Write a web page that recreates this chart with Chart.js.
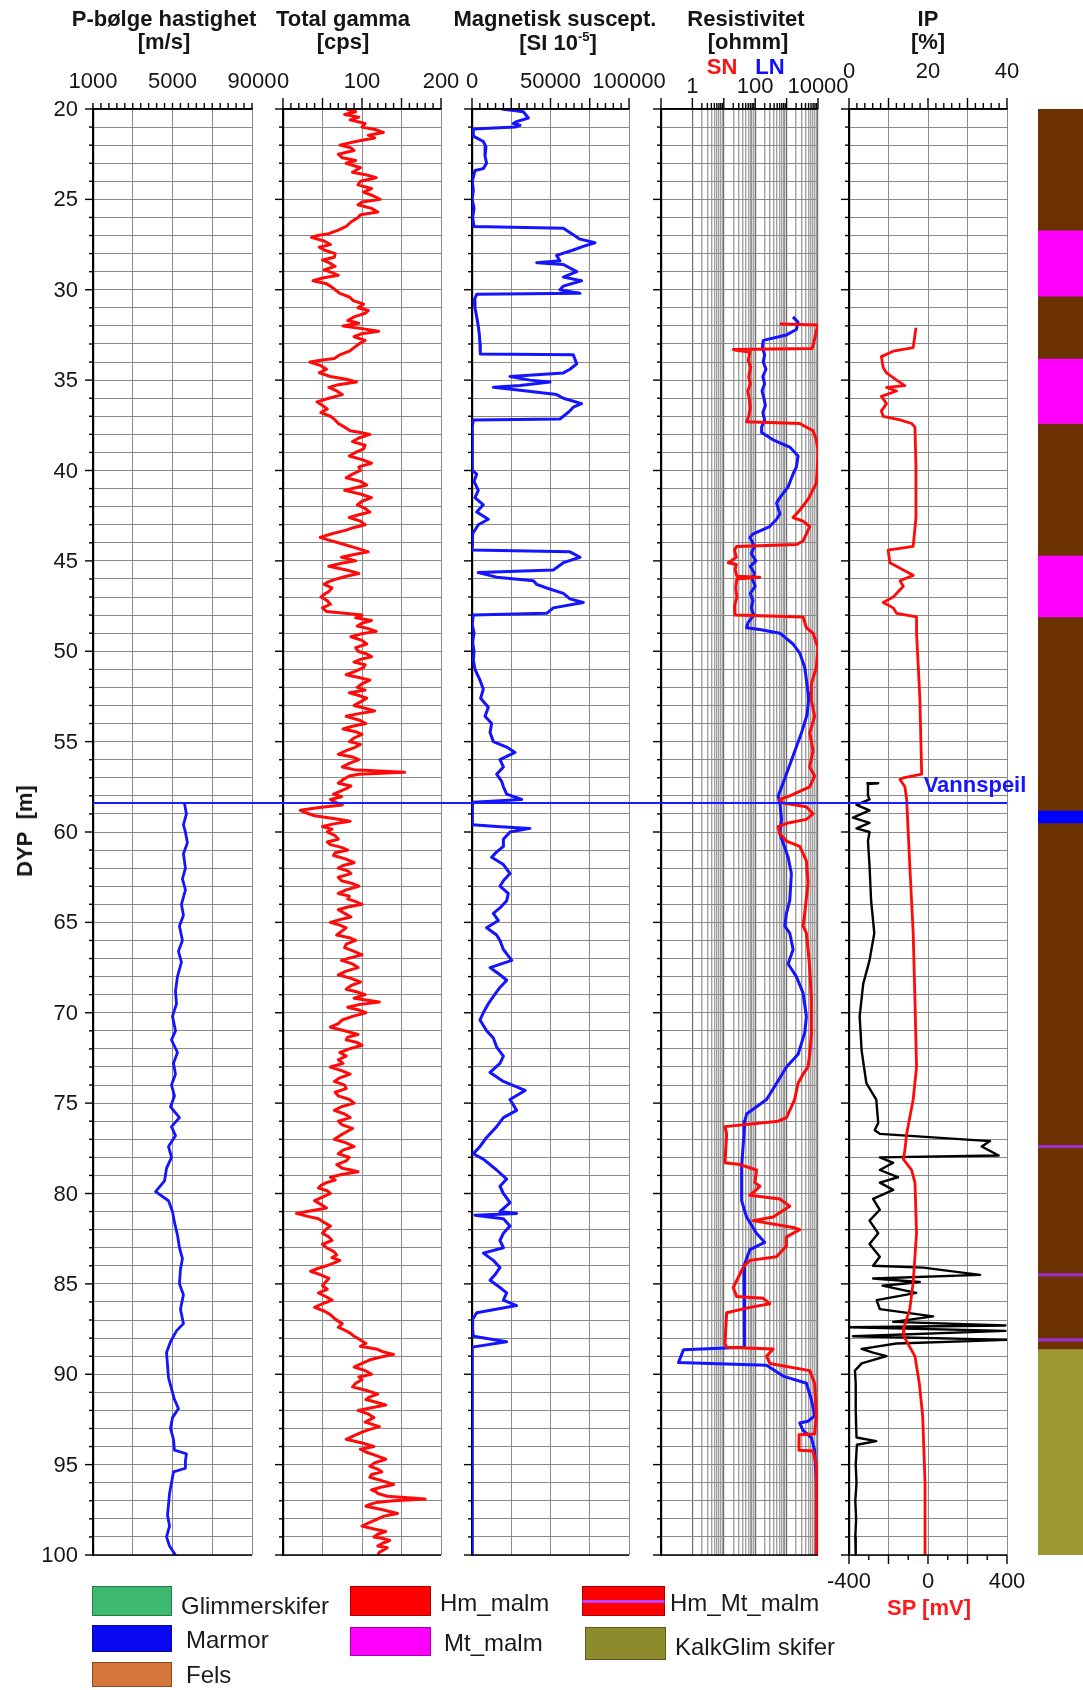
<!DOCTYPE html>
<html><head><meta charset="utf-8">
<script src="https://cdn.jsdelivr.net/npm/chart.js@4.4.1/dist/chart.umd.min.js"></script>
<style>
body{margin:0;background:#fff;}
#page{position:relative;width:1083px;height:1690px;overflow:hidden;background:#fff;font-family:"Liberation Sans",Arial,sans-serif;color:#151515;}
canvas{position:absolute;top:0;}
.t{position:absolute;white-space:nowrap;transform:translate(-50%,-50%);font-size:22px;line-height:1;}
.b{font-weight:bold;}
.lg{position:absolute;white-space:nowrap;transform:translateY(-50%);font-size:24px;line-height:1;color:#1a1a1a;}
.sw{position:absolute;box-sizing:border-box;border:1px solid rgba(0,0,0,0.35);}
sup{font-size:13px;}
</style></head>
<body><div id="page">
<canvas id="c1"></canvas><canvas id="c2"></canvas><canvas id="c3"></canvas><canvas id="c4"></canvas><canvas id="c5"></canvas>
<canvas id="clith"></canvas><canvas id="cwater"></canvas>

<div class="t b" style="left:164px;top:19px">P-bølge hastighet</div>
<div class="t b" style="left:164px;top:42px">[m/s]</div>
<div class="t b" style="left:343px;top:19px">Total gamma</div>
<div class="t b" style="left:343px;top:42px">[cps]</div>
<div class="t b" style="left:555px;top:19px">Magnetisk suscept.</div>
<div class="t b" style="left:558px;top:42px">[SI 10<sup>-5</sup>]</div>
<div class="t b" style="left:746px;top:19px">Resistivitet</div>
<div class="t b" style="left:748px;top:42px">[ohmm]</div>
<div class="t b" style="left:722px;top:67px;color:#ff1010">SN</div>
<div class="t b" style="left:770px;top:67px;color:#1010ff">LN</div>
<div class="t b" style="left:928px;top:19px">IP</div>
<div class="t b" style="left:928px;top:42px">[%]</div>
<div class="t b" style="left:25px;top:831px;transform:translate(-50%,-50%) rotate(-90deg)">DYP&nbsp; [m]</div>
<div class="t b" style="left:975px;top:785px;color:#1515ff">Vannspeil</div>
<div class="t b" style="left:929px;top:1608px;color:#ff1a1a">SP [mV]</div>

<div class="sw" style="left:92px;top:1586px;width:80px;height:30px;background:#3dba6f"></div>
<div class="lg" style="left:181px;top:1606px">Glimmerskifer</div>
<div class="sw" style="left:92px;top:1625px;width:80px;height:27px;background:#0a0af2"></div>
<div class="lg" style="left:186px;top:1640px">Marmor</div>
<div class="sw" style="left:92px;top:1662px;width:80px;height:25px;background:#d4763a"></div>
<div class="lg" style="left:186px;top:1675px">Fels</div>
<div class="sw" style="left:350px;top:1586px;width:81px;height:30px;background:#ff0000"></div>
<div class="lg" style="left:440px;top:1603px">Hm_malm</div>
<div class="sw" style="left:350px;top:1627px;width:81px;height:29px;background:#ff00ff"></div>
<div class="lg" style="left:444px;top:1643px">Mt_malm</div>
<div class="sw" style="left:582px;top:1586px;width:83px;height:30px;background:linear-gradient(#ff0000 0,#ff0000 46%,#c040ff 46%,#c040ff 56%,#ff0000 56%)"></div>
<div class="lg" style="left:670px;top:1603px">Hm_Mt_malm</div>
<div class="sw" style="left:585px;top:1627px;width:81px;height:33px;background:#8e8b2c"></div>
<div class="lg" style="left:675px;top:1647px">KalkGlim skifer</div>
</div>
<script>
// ---------------- DATA ----------------
const depthMin = 20, depthMax = 100;
const depthLabels = [20,25,30,35,40,45,50,55,60,65,70,75,80,85,90,95,100];
const waterLevel = 58.4;

// P-wave velocity [m/s]  [depth, value]
const pwave = [[58.4,5600],[59,5700],[59.6,5550],[60,5650],[60.6,5750],[61.2,5550],[62,5650],[62.6,5500],[63.2,5650],[64,5450],[64.6,5550],[65.2,5350],[66,5500],[66.6,5300],[67.2,5450],[68,5250],[68.8,5150],[69.5,5200],[70.2,5000],[71,5150],[71.5,4950],[72.2,5250],[72.8,5050],[73.4,5150],[74,4950],[74.6,5100],[75.2,4900],[75.8,5350],[76.3,4950],[76.8,5150],[77.4,4800],[78,4950],[78.6,4700],[79.3,4600],[79.9,4150],[80.4,4800],[81,5000],[81.6,5100],[82.3,5250],[83,5350],[83.6,5500],[84.2,5400],[85,5350],[85.6,5550],[86.4,5400],[87.2,5550],[87.6,5200],[88.2,4900],[88.8,4700],[89.5,4750],[90.2,4800],[90.8,4950],[91.4,5100],[91.9,5300],[92.4,5000],[93,4900],[93.6,5050],[94.2,5100],[94.4,5700],[94.8,5650],[95.2,5650],[95.4,5050],[96,4950],[96.6,4850],[97.2,4800],[97.8,4750],[98.4,4850],[99,4700],[99.5,4850],[100,5150]];

// Total gamma [cps]
const gamma = [[20,80],[20.15,92],[20.3,78],[20.45,96],[20.6,85],[20.8,104],[21,100],[21.15,118],[21.3,127],[21.45,108],[21.6,116],[21.8,92],[22,72],[22.15,86],[22.3,90],[22.5,70],[22.7,75],[22.85,92],[23,80],[23.25,98],[23.5,88],[23.65,106],[23.8,118],[24,98],[24.2,95],[24.4,112],[24.6,102],[24.8,114],[25,123],[25.15,100],[25.3,95],[25.5,112],[25.7,120],[25.85,98],[26,95],[26.25,86],[26.5,80],[26.7,70],[26.9,58],[27,44],[27.1,36],[27.3,52],[27.5,60],[27.65,46],[27.8,52],[28,66],[28.2,65],[28.35,50],[28.5,58],[28.7,66],[28.9,52],[29.05,62],[29.2,70],[29.35,50],[29.5,38],[29.65,54],[29.8,60],[30,66],[30.2,72],[30.4,84],[30.6,89],[30.8,102],[31,95],[31.15,108],[31.3,104],[31.5,90],[31.7,82],[31.85,96],[32,76],[32.15,100],[32.3,121],[32.45,98],[32.6,90],[32.8,104],[33,96],[33.2,90],[33.4,84],[33.6,72],[33.8,65],[33.9,48],[34,34],[34.2,48],[34.4,55],[34.6,46],[34.8,60],[34.95,80],[35.1,93],[35.25,70],[35.4,58],[35.6,68],[35.8,75],[36,58],[36.2,43],[36.4,50],[36.6,56],[36.8,48],[37,60],[37.2,66],[37.4,70],[37.6,78],[37.8,85],[37.9,98],[38,110],[38.2,96],[38.4,88],[38.6,104],[38.8,102],[39,92],[39.2,84],[39.4,100],[39.6,112],[39.8,96],[40,98],[40.2,88],[40.4,80],[40.6,98],[40.8,106],[40.95,92],[41.1,78],[41.3,98],[41.5,112],[41.7,100],[41.9,94],[42.1,104],[42.3,110],[42.45,96],[42.6,84],[42.8,98],[43,104],[43.15,90],[43.3,80],[43.5,62],[43.7,47],[43.85,58],[44,70],[44.25,90],[44.5,108],[44.65,90],[44.8,74],[44.9,84],[45,92],[45.15,72],[45.3,58],[45.5,80],[45.7,96],[45.85,80],[46,68],[46.15,58],[46.3,52],[46.5,62],[46.7,58],[46.85,52],[47,48],[47.2,56],[47.4,60],[47.6,50],[47.8,55],[47.9,78],[48,100],[48.15,92],[48.3,112],[48.45,100],[48.6,94],[48.75,108],[48.9,118],[49.05,98],[49.2,86],[49.4,100],[49.6,106],[49.8,92],[50,95],[50.15,106],[50.3,112],[50.45,98],[50.6,90],[50.75,104],[50.9,102],[51.1,92],[51.3,80],[51.45,96],[51.6,110],[51.8,100],[52,94],[52.15,104],[52.3,84],[52.45,96],[52.6,106],[52.8,98],[53,90],[53.15,104],[53.3,116],[53.45,96],[53.6,80],[53.8,96],[54,105],[54.15,88],[54.3,76],[54.45,92],[54.6,100],[54.8,90],[55,84],[55.15,98],[55.3,92],[55.5,80],[55.7,70],[55.85,88],[56,96],[56.2,84],[56.4,75],[56.55,90],[56.7,154],[56.8,96],[56.9,84],[57.1,76],[57.3,70],[57.45,86],[57.6,80],[57.75,72],[57.9,64],[58.05,74],[58.2,60],[58.35,66],[58.5,75],[58.65,46],[58.8,22],[58.95,30],[59.1,40],[59.25,64],[59.4,85],[59.55,64],[59.7,50],[59.85,62],[60,56],[60.2,66],[60.4,70],[60.55,56],[60.7,60],[60.85,74],[61,82],[61.15,66],[61.3,64],[61.5,80],[61.7,90],[61.85,76],[62,70],[62.15,82],[62.3,86],[62.5,70],[62.7,74],[62.85,88],[63,96],[63.2,80],[63.4,70],[63.55,84],[63.7,82],[63.85,92],[64,100],[64.15,82],[64.3,70],[64.5,78],[64.7,86],[64.85,72],[65,60],[65.15,72],[65.3,80],[65.5,74],[65.7,68],[65.85,84],[66,92],[66.2,80],[66.4,78],[66.6,90],[66.8,100],[66.95,86],[67.1,74],[67.3,88],[67.5,95],[67.7,80],[67.9,70],[68.1,86],[68.3,98],[68.5,86],[68.7,80],[68.85,94],[69,104],[69.2,90],[69.4,122],[69.55,96],[69.7,82],[69.85,96],[70,105],[70.2,88],[70.4,75],[70.6,70],[70.8,60],[71,78],[71.2,95],[71.35,82],[71.5,80],[71.65,94],[71.8,100],[72,84],[72.2,72],[72.4,80],[72.6,70],[72.8,76],[73,60],[73.2,74],[73.4,85],[73.6,72],[73.8,65],[74,78],[74.2,80],[74.4,66],[74.6,70],[74.8,84],[75,90],[75.2,74],[75.4,65],[75.6,78],[75.8,85],[76,70],[76.2,75],[76.4,88],[76.6,80],[76.8,72],[77,65],[77.2,80],[77.4,90],[77.6,76],[77.8,70],[78,84],[78.2,80],[78.4,68],[78.6,75],[78.7,86],[78.8,95],[78.95,74],[79.1,60],[79.25,66],[79.4,55],[79.55,48],[79.7,45],[79.85,56],[80,60],[80.2,50],[80.4,40],[80.6,48],[80.8,55],[80.95,36],[81.1,17],[81.25,30],[81.4,45],[81.6,52],[81.8,60],[82,54],[82.2,50],[82.4,58],[82.6,62],[82.8,50],[83,55],[83.2,64],[83.4,68],[83.55,62],[83.7,72],[83.85,64],[84,55],[84.15,44],[84.3,35],[84.5,48],[84.7,58],[84.9,54],[85.1,50],[85.3,56],[85.5,45],[85.7,54],[85.9,62],[86.1,50],[86.3,40],[86.5,52],[86.7,60],[86.95,66],[87.2,75],[87.4,70],[87.6,80],[87.75,86],[87.9,90],[88.1,98],[88.3,105],[88.45,98],[88.6,118],[88.75,126],[88.9,140],[89.05,124],[89.2,110],[89.4,100],[89.6,90],[89.8,104],[90,112],[90.15,96],[90.3,100],[90.5,92],[90.7,88],[90.9,106],[91.1,120],[91.25,110],[91.4,105],[91.55,118],[91.7,130],[91.85,112],[92,95],[92.2,108],[92.4,115],[92.65,104],[92.9,122],[93.05,110],[93.2,100],[93.4,90],[93.6,80],[93.8,100],[94,115],[94.15,98],[94.3,105],[94.5,118],[94.7,130],[94.9,116],[95.1,110],[95.25,120],[95.4,125],[95.55,112],[95.7,110],[95.9,126],[96.1,140],[96.25,124],[96.4,112],[96.5,118],[96.6,120],[96.75,132],[96.9,180],[97,140],[97.1,118],[97.2,110],[97.3,105],[97.5,126],[97.7,145],[97.85,128],[98,120],[98.2,110],[98.4,100],[98.55,114],[98.7,130],[98.85,120],[99,115],[99.1,128],[99.2,135],[99.35,126],[99.5,120],[99.6,132],[99.7,128],[99.85,122],[100,120]];

// Magnetic susceptibility [SI 10^-5]
const susc = [[20,18900],[20.15,32700],[20.5,35900],[20.7,28400],[20.8,26300],[20.9,30600],[21,27400],[21.1,850],[21.5,850],[21.8,7200],[22.1,8900],[22.6,8300],[23,9300],[23.3,7200],[23.4,1900],[24,200],[24.5,850],[25,100],[25.5,1300],[26,400],[26.5,1300],[26.6,58200],[26.9,63500],[27.2,68800],[27.4,78300],[27.6,70900],[27.8,64500],[28.1,53900],[28.4,56000],[28.5,41200],[28.6,58200],[29,66700],[29.3,58200],[29.5,69800],[29.8,58200],[30,56000],[30.2,68800],[30.25,3000],[30.6,1300],[31,1900],[31.5,3000],[32,4000],[32.5,4700],[33,5100],[33.4,5500],[33.55,5100],[33.6,64500],[34.1,66700],[34.4,62400],[34.6,58200],[34.8,24200],[35,36900],[35.1,49700],[35.3,30600],[35.4,13600],[35.6,34800],[35.8,53900],[36,58200],[36.3,69800],[36.5,64500],[36.7,62400],[37,58200],[37.15,56000],[37.2,850],[37.6,100],[38,200],[39,100],[40,400],[40.2,3000],[40.6,1300],[41.1,4000],[41.5,1900],[41.9,7200],[42.3,3000],[42.7,10400],[43,4000],[43.5,400],[44,200],[44.4,100],[44.5,62400],[44.8,68800],[45.1,58200],[45.5,51800],[45.65,4000],[45.9,15700],[46.1,39100],[46.3,41200],[46.5,47600],[46.8,58200],[47.1,62400],[47.3,70900],[47.6,51800],[47.9,47600],[48,850],[48.5,100],[49,1300],[49.5,400],[50,1300],[50.5,850],[51,1900],[51.6,5100],[52.1,7200],[52.6,5500],[53.1,10400],[53.6,8300],[54,12500],[54.5,11500],[55,13600],[55.3,22100],[55.6,27400],[56,17800],[56.4,20000],[56.8,15700],[57.2,18900],[57.5,20000],[57.9,22100],[58.2,31600],[58.35,850],[58.6,100],[59.2,100],[59.6,400],[59.7,15700],[59.8,36900],[60,24200],[60.4,20000],[60.8,20000],[61.1,15700],[61.4,12500],[61.8,20000],[62.3,24200],[62.7,20000],[63,17800],[63.4,23100],[63.8,22100],[64.2,17800],[64.5,13600],[64.9,16800],[65.3,9300],[65.7,15700],[66,17800],[66.5,20000],[67.1,25300],[67.5,11500],[67.9,17800],[68.2,22100],[68.6,17800],[69.1,13600],[69.5,10400],[70,7200],[70.4,5100],[71,9300],[71.4,13600],[71.9,15700],[72.4,20000],[72.8,17800],[73.3,11500],[73.8,20000],[74.3,33800],[74.8,24200],[75.4,28400],[75.8,20000],[76.3,15700],[76.9,9300],[77.4,5100],[77.8,850],[78.1,7200],[78.7,15700],[79.2,22100],[79.6,17800],[80,20000],[80.5,24200],[81,17800],[81.1,28400],[81.2,1900],[81.4,20000],[81.8,24200],[82.2,20000],[82.6,17800],[83,20000],[83.3,7200],[83.7,13600],[84.1,17800],[84.5,14600],[84.8,11500],[85.2,17800],[85.5,22100],[85.9,20000],[86.2,28400],[86.6,3000],[87,100],[87.5,400],[87.9,850],[88.2,22100],[88.5,100],[89,100],[90,0],[92,100],[95,100],[97,200],[98.5,600],[98.8,100],[100,100]];

// Resistivity [ohmm] – LN (long normal) and SN (short normal)
const resLN = [[31.5,1600],[31.8,2320],[32.2,2050],[32.5,990],[32.8,180],[33.2,170],[33.6,200],[34,180],[34.4,220],[34.8,175],[35.2,200],[35.6,165],[36,190],[36.4,210],[36.8,175],[37.2,200],[37.6,160],[37.9,160],[38.3,370],[38.7,1260],[39.2,2320],[39.8,2050],[40.2,1600],[40.9,1120],[41.5,610],[41.8,480],[42.4,610],[42.7,480],[43.1,290],[43.5,86],[43.7,68],[44.2,95],[44.6,75],[45,105],[45.3,70],[45.7,95],[46,80],[46.4,100],[46.8,70],[47.2,85],[47.6,75],[48,90],[48.4,60],[48.7,53],[48.8,140],[49,610],[49.6,1610],[50.1,2620],[50.9,3780],[51.6,4300],[52.3,4820],[52.7,5000],[53.5,4500],[54.5,3000],[55.8,1600],[57.3,770],[58,540],[58.4,610],[59.3,690],[60.1,610],[60.6,770],[61.4,1120],[62.3,1420],[63.8,1260],[64.5,990],[65.2,875],[65.6,1260],[66.5,1610],[67.3,1120],[68,2050],[68.9,3340],[70.2,4270],[71.1,3780],[72.3,2320],[73,990],[73.9,480],[74.8,230],[75.6,53],[76,47],[76.7,44],[78.5,37],[79.4,37],[80.4,37],[81.3,53],[82.2,110],[82.7,200],[83.1,68],[84,44],[85,47],[86,44],[87,47],[88,45],[88.5,46],[88.65,0.52],[89.35,0.36],[89.5,229],[90.1,775],[90.5,4270],[91.4,6140],[92.3,7830],[92.6,4820],[92.7,2620],[93.1,3340],[93.5,6140],[94.2,7830],[96,8850],[100,8850]];
const resSN = [[31.9,610],[31.95,10000],[32.3,8850],[33.1,6940],[33.25,6500],[33.3,20],[33.35,25],[33.45,68],[33.9,60],[34.3,72],[34.8,62],[35.2,70],[35.6,58],[36,64],[36.5,70],[37,62],[37.3,53],[37.4,2620],[37.8,6940],[38.3,8850],[38.9,10000],[40,9500],[40.7,8850],[41.6,4820],[42.2,2620],[42.6,1610],[42.8,3340],[43.1,5440],[43.5,4270],[43.9,3340],[44.1,2050],[44.2,25.6],[44.4,22],[44.8,25],[45.1,13.9],[45.2,25],[45.5,23],[45.85,26],[45.9,140],[46,26],[46.5,24],[47,26],[47.5,22],[48,22.6],[48.1,3340],[48.7,4270],[49,6940],[49.8,10000],[50.9,8850],[51.8,6140],[52.7,6140],[53.6,7830],[54.5,5440],[55.5,6940],[56.4,5440],[56.9,7830],[57.5,5440],[58,1260],[58.2,610],[58.4,770],[58.6,4270],[59,6940],[59.3,4270],[59.5,1120],[59.7,540],[60.1,610],[60.5,990],[60.8,2620],[61.6,4270],[62.8,4820],[64.5,3780],[65.2,3340],[65.6,4270],[66.5,4820],[67.5,5440],[69.3,6140],[71.2,6140],[72.3,5440],[73,4820],[73.4,3340],[73.9,2320],[74.8,1800],[75.8,990],[76,540],[76.3,10.9],[76.7,12.3],[78.3,10.9],[78.4,33],[78.7,110],[79.4,98],[79.6,141],[80.1,68],[80.3,610],[80.7,1260],[81.3,373],[81.5,86],[81.9,1800],[82,2620],[82.4,990],[82.9,990],[83.5,476],[83.7,68],[84,44],[85.2,20],[85.7,25.6],[85.8,179],[86.1,292],[86.3,68],[86.6,12.3],[88.3,10.9],[88.5,12.3],[88.6,373],[89,229],[89.4,292],[89.8,5440],[90.5,7830],[92.3,8850],[93.3,7830],[93.35,2490],[94.2,2490],[94.25,6940],[95,8850],[100,8850]];

// IP [%] (black) and SP [mV] (red)
const ip = [[57.3,4.4],[57.3,7.4],[57.35,4.8],[58,4.8],[58.2,5.2],[58.5,1.9],[58.8,5.2],[59.2,1],[59.5,5.2],[59.8,1.9],[60,5.2],[60.5,4.8],[61.9,5.2],[63.8,5.6],[65.6,6.4],[67.1,5.2],[68.4,3.6],[70.2,2.7],[72.1,3.2],[73.9,4.4],[74.8,6.9],[76.1,7.4],[76.5,6.5],[76.7,7.8],[77.1,35.7],[77.4,33.6],[77.9,37.9],[78,7.8],[78.3,11.2],[78.7,7.8],[79.1,12.4],[79.4,7.8],[79.8,11.2],[80.3,6.1],[80.9,7.8],[81.5,5.2],[82.2,7.4],[82.8,5.2],[83.5,7.8],[84,6.1],[84.1,18.8],[84.5,33.2],[84.7,6.1],[84.9,17.9],[85.1,8.5],[85.5,17],[85.9,7],[86.4,7.8],[86.8,21.3],[87.1,11.2],[87.3,39.6],[87.4,0.2],[87.6,39.6],[87.9,1],[88.1,40],[88.3,12],[88.5,6.1],[88.6,3.2],[88.8,6.1],[89,9.5],[89.4,3.2],[89.8,1.5],[90.5,1.7],[92,1.7],[93.5,1.9],[93.7,6.9],[93.9,2],[95,1.7],[96,1.9],[97,1.6],[98,1.8],[99,1.6],[100,1.7]];
const sp = [[32.1,-61],[33.2,-75],[33.4,-176],[33.7,-236],[34.3,-227],[34.6,-210],[35,-159],[35.3,-117],[35.4,-210],[35.6,-159],[35.9,-236],[36.3,-210],[36.7,-236],[37,-227],[37.2,-142],[37.4,-83],[37.6,-66],[39.8,-61],[42.6,-61],[44.2,-75],[44.4,-202],[45.1,-193],[45.5,-125],[45.8,-75],[46.1,-142],[46.4,-125],[47,-176],[47.3,-227],[47.6,-176],[47.9,-159],[48.1,-58],[49,-58],[50.9,-49],[52.7,-41],[56.8,-32],[57,-125],[57.1,-142],[57.5,-117],[58.2,-108],[61.9,-92],[65.6,-75],[69.3,-66],[73,-58],[74.8,-75],[76.7,-108],[77.6,-117],[78.1,-125],[78.7,-83],[79.4,-66],[82.2,-58],[84.9,-75],[86.4,-92],[87.5,-125],[87.9,-122],[88.5,-92],[89,-66],[90.5,-44],[92.3,-27],[96,-15],[100,-15]];

// Lithology intervals [top, bottom, type]  (boundary lines first so they draw on top)
const lithology = [[77.33,77.47,'line'],[84.43,84.57,'line'],[88.03,88.17,'line'],[20,26.7,'brown'],[26.7,30.35,'Mt_malm'],[30.35,33.8,'brown'],[33.8,37.4,'Mt_malm'],[37.4,44.7,'brown'],[44.7,48.1,'Mt_malm'],[48.1,58.8,'brown'],[58.8,59.5,'Marmor'],[59.5,88.6,'brown'],[88.6,100,'KalkGlim skifer']];

// Axis tick labels
const pwaveLabels = [1000,5000,9000];
const gammaLabels = [0,100,200];
const suscLabels = [0,50000,100000];
const resLabels = [1,100,10000];
const ipLabels = [0,20,40];
const spLabels = [-400,0,400];

// ---------------- RENDER ----------------
const TOP = 109, BOT = 1555, H = 1690;
const GRID = '#8a8a8a';
const lithColors = {'brown':'#6b3100','Mt_malm':'#ff00ff','Marmor':'#0000ff','KalkGlim skifer':'#9c9931','line':'#9a30c8'};
const pts = arr => arr.map(p => ({x:p[1], y:p[0]}));
function range(a,b,s){const r=[];for(let v=a;v<=b+1e-9;v+=s)r.push(Math.round(v*1000)/1000);return r;}
const depthTicks = range(20,100,1);
const logTicks = [];
for (let e=0;e<=3;e++) for (let m=1;m<=9;m++) logTicks.push(m*Math.pow(10,e));
logTicks.push(10000);

const deco = {
  id:'deco',
  afterDraw(chart, args, o){
    const ctx = chart.ctx, a = chart.chartArea, ys = chart.scales.y, xs = chart.scales.x;
    ctx.save();
    ctx.strokeStyle = '#000'; ctx.lineWidth = 1.4;
    const ln=(x1,y1,x2,y2)=>{ctx.beginPath();ctx.moveTo(x1,y1);ctx.lineTo(x2,y2);ctx.stroke();};
    depthTicks.forEach(d=>{const p=ys.getPixelForValue(d);const len=(d%5===0)?8:4;ln(a.left-len,p,a.left,p);});
    o.top.forEach(t=>{const p=xs.getPixelForValue(t.v);ln(p,a.top-(t.major?11:6),p,a.top);});
    ctx.lineWidth = 1.6; ln(a.left,a.bottom,a.right,a.bottom); ln(a.left-1,a.top,a.right,a.top);
    ctx.font = '22px "Liberation Sans", Arial, sans-serif'; ctx.fillStyle = '#151515';
    ctx.textAlign='center'; ctx.textBaseline='middle';
    o.labels.forEach(v=>ctx.fillText(String(v), xs.getPixelForValue(v), o.labelY));
    if (o.depthLabels){ctx.textAlign='right'; depthLabels.forEach(d=>ctx.fillText(String(d), a.left-15, ys.getPixelForValue(d)+1));}
    if (o.bottom){
      const bs = chart.scales.x2; ctx.lineWidth=1.4;
      range(-400,400,100).forEach(v=>{const p=bs.getPixelForValue(v);ln(p,a.bottom,p,a.bottom+(v%200===0?9:5));});
      ctx.textAlign='center';
      spLabels.forEach(v=>ctx.fillText(String(v), bs.getPixelForValue(v), 1582));
    }
    ctx.restore();
  }
};

function track(id, left, right, xcfg, datasets, decoOpts, extra, PL){
  PL = PL || 45; const PR = 45;
  const cv = document.getElementById(id);
  cv.width = right-left+PL+PR; cv.height = H; cv.style.left=(left-PL)+'px';
  const scales = {
    x: Object.assign({position:'top', border:{display:true,color:'#000',width:1.5},
         ticks:{display:false}, afterFit(s){s.height=0;}}, xcfg),
    y: {type:'linear', reverse:true, min:depthMin, max:depthMax, position:'left',
        border:{display:true,color:'#000',width:2.2},
        ticks:{display:false}, grid:{color:GRID,lineWidth:1,drawTicks:false},
        afterBuildTicks(s){s.ticks=depthTicks.map(v=>({value:v}));}, afterFit(s){s.width=0;}}
  };
  Object.assign(scales, extra||{});
  new Chart(cv,{type:'scatter', data:{datasets},
    options:{responsive:false, animation:false, devicePixelRatio:1,
      layout:{padding:{left:PL,right:PR,top:TOP,bottom:H-BOT}},
      plugins:{legend:{display:false}, tooltip:{enabled:false}, deco:decoOpts},
      scales},
    plugins:[deco]});
}
function ds(arr, color, w, axis){
  const d = {data:pts(arr), showLine:true, borderColor:color, borderWidth:w, pointRadius:0, tension:0, fill:false, borderJoinStyle:'round'};
  if (axis) d.xAxisID = axis;
  return d;
}
function linX(min,max,major){
  return {type:'linear',min,max, grid:{color:GRID,lineWidth:1,drawTicks:false},
    afterBuildTicks(s){s.ticks=range(min,max,major).map(v=>({value:v}));}};
}
function topTicks(min,max,minor,major){return range(min,max,minor).map(v=>({v,major:Math.abs(v/major-Math.round(v/major))<1e-6}));}

track('c1',93,252, linX(1000,9000,2000), [ds(pwave,'#1414ff',2.8)],
  {top:topTicks(1000,9000,400,2000), labels:pwaveLabels, labelY:82, depthLabels:true}, null, 93);
track('c2',283,441, linX(0,200,50), [ds(gamma,'#ff0a0a',3)],
  {top:topTicks(0,200,10,50), labels:gammaLabels, labelY:82});
track('c3',472,629, linX(0,100000,25000), [ds(susc,'#1414ff',3)],
  {top:topTicks(0,100000,5000,25000), labels:suscLabels, labelY:82});
track('c4',661,818, {type:'logarithmic',min:0.1,max:10000,
    grid:{drawTicks:false, color:c=>{const v=c.tick&&c.tick.value; if(v==null)return GRID; const e=Math.log10(v); return Math.abs(e-Math.round(e))<1e-6?'#6f6f6f':'rgba(110,110,110,0.65)';}, lineWidth:c=>{const v=c.tick&&c.tick.value; if(v==null)return 1; const e=Math.log10(v); return Math.abs(e-Math.round(e))<1e-6?1.2:1.4;}},
    afterBuildTicks(s){s.ticks=logTicks.map(v=>({value:v}));}},
  [ds(resSN,'#ff0a0a',3), ds(resLN,'#1414ff',3)],
  {top:[{v:0.1,major:true}].concat(logTicks.map(v=>({v,major:Math.abs(Math.log10(v)-Math.round(Math.log10(v)))<1e-6}))), labels:resLabels, labelY:87});
track('c5',849,1007, linX(0,40,10), [ds(sp,'#ff0a0a',2.8,'x2'), ds(ip,'#000',2.4)],
  {top:topTicks(0,40,2,10), labels:ipLabels, labelY:72, bottom:true},
  {x2:{type:'linear',min:-400,max:400,position:'bottom',display:false}});

// Lithology column
(function(){
  const cv = document.getElementById('clith');
  cv.width = 45; cv.height = H; cv.style.left='1038px';
  new Chart(cv,{type:'bar',
    data:{labels:['lit'], datasets: lithology.map(l=>({data:[[l[0],l[1]]], backgroundColor:lithColors[l[2]], borderWidth:0, grouped:false, barPercentage:1, categoryPercentage:1}))},
    options:{responsive:false, animation:false, devicePixelRatio:1,
      layout:{padding:{left:0,right:0,top:TOP,bottom:H-BOT}},
      plugins:{legend:{display:false},tooltip:{enabled:false}},
      scales:{x:{display:false}, y:{type:'linear',reverse:true,min:depthMin,max:depthMax,display:false}}}});
})();

// Water level line
(function(){
  const cv = document.getElementById('cwater');
  cv.width = 914; cv.height = H; cv.style.left='93px';
  new Chart(cv,{type:'scatter',
    data:{datasets:[{data:[{x:0,y:waterLevel},{x:1,y:waterLevel}], showLine:true, borderColor:'#1a1aff', borderWidth:2, pointRadius:0}]},
    options:{responsive:false, animation:false, devicePixelRatio:1,
      layout:{padding:{left:0,right:0,top:TOP,bottom:H-BOT}},
      plugins:{legend:{display:false},tooltip:{enabled:false}},
      scales:{x:{type:'linear',min:0,max:1,display:false}, y:{type:'linear',reverse:true,min:depthMin,max:depthMax,display:false}}}});
})();
</script>
</body></html>
